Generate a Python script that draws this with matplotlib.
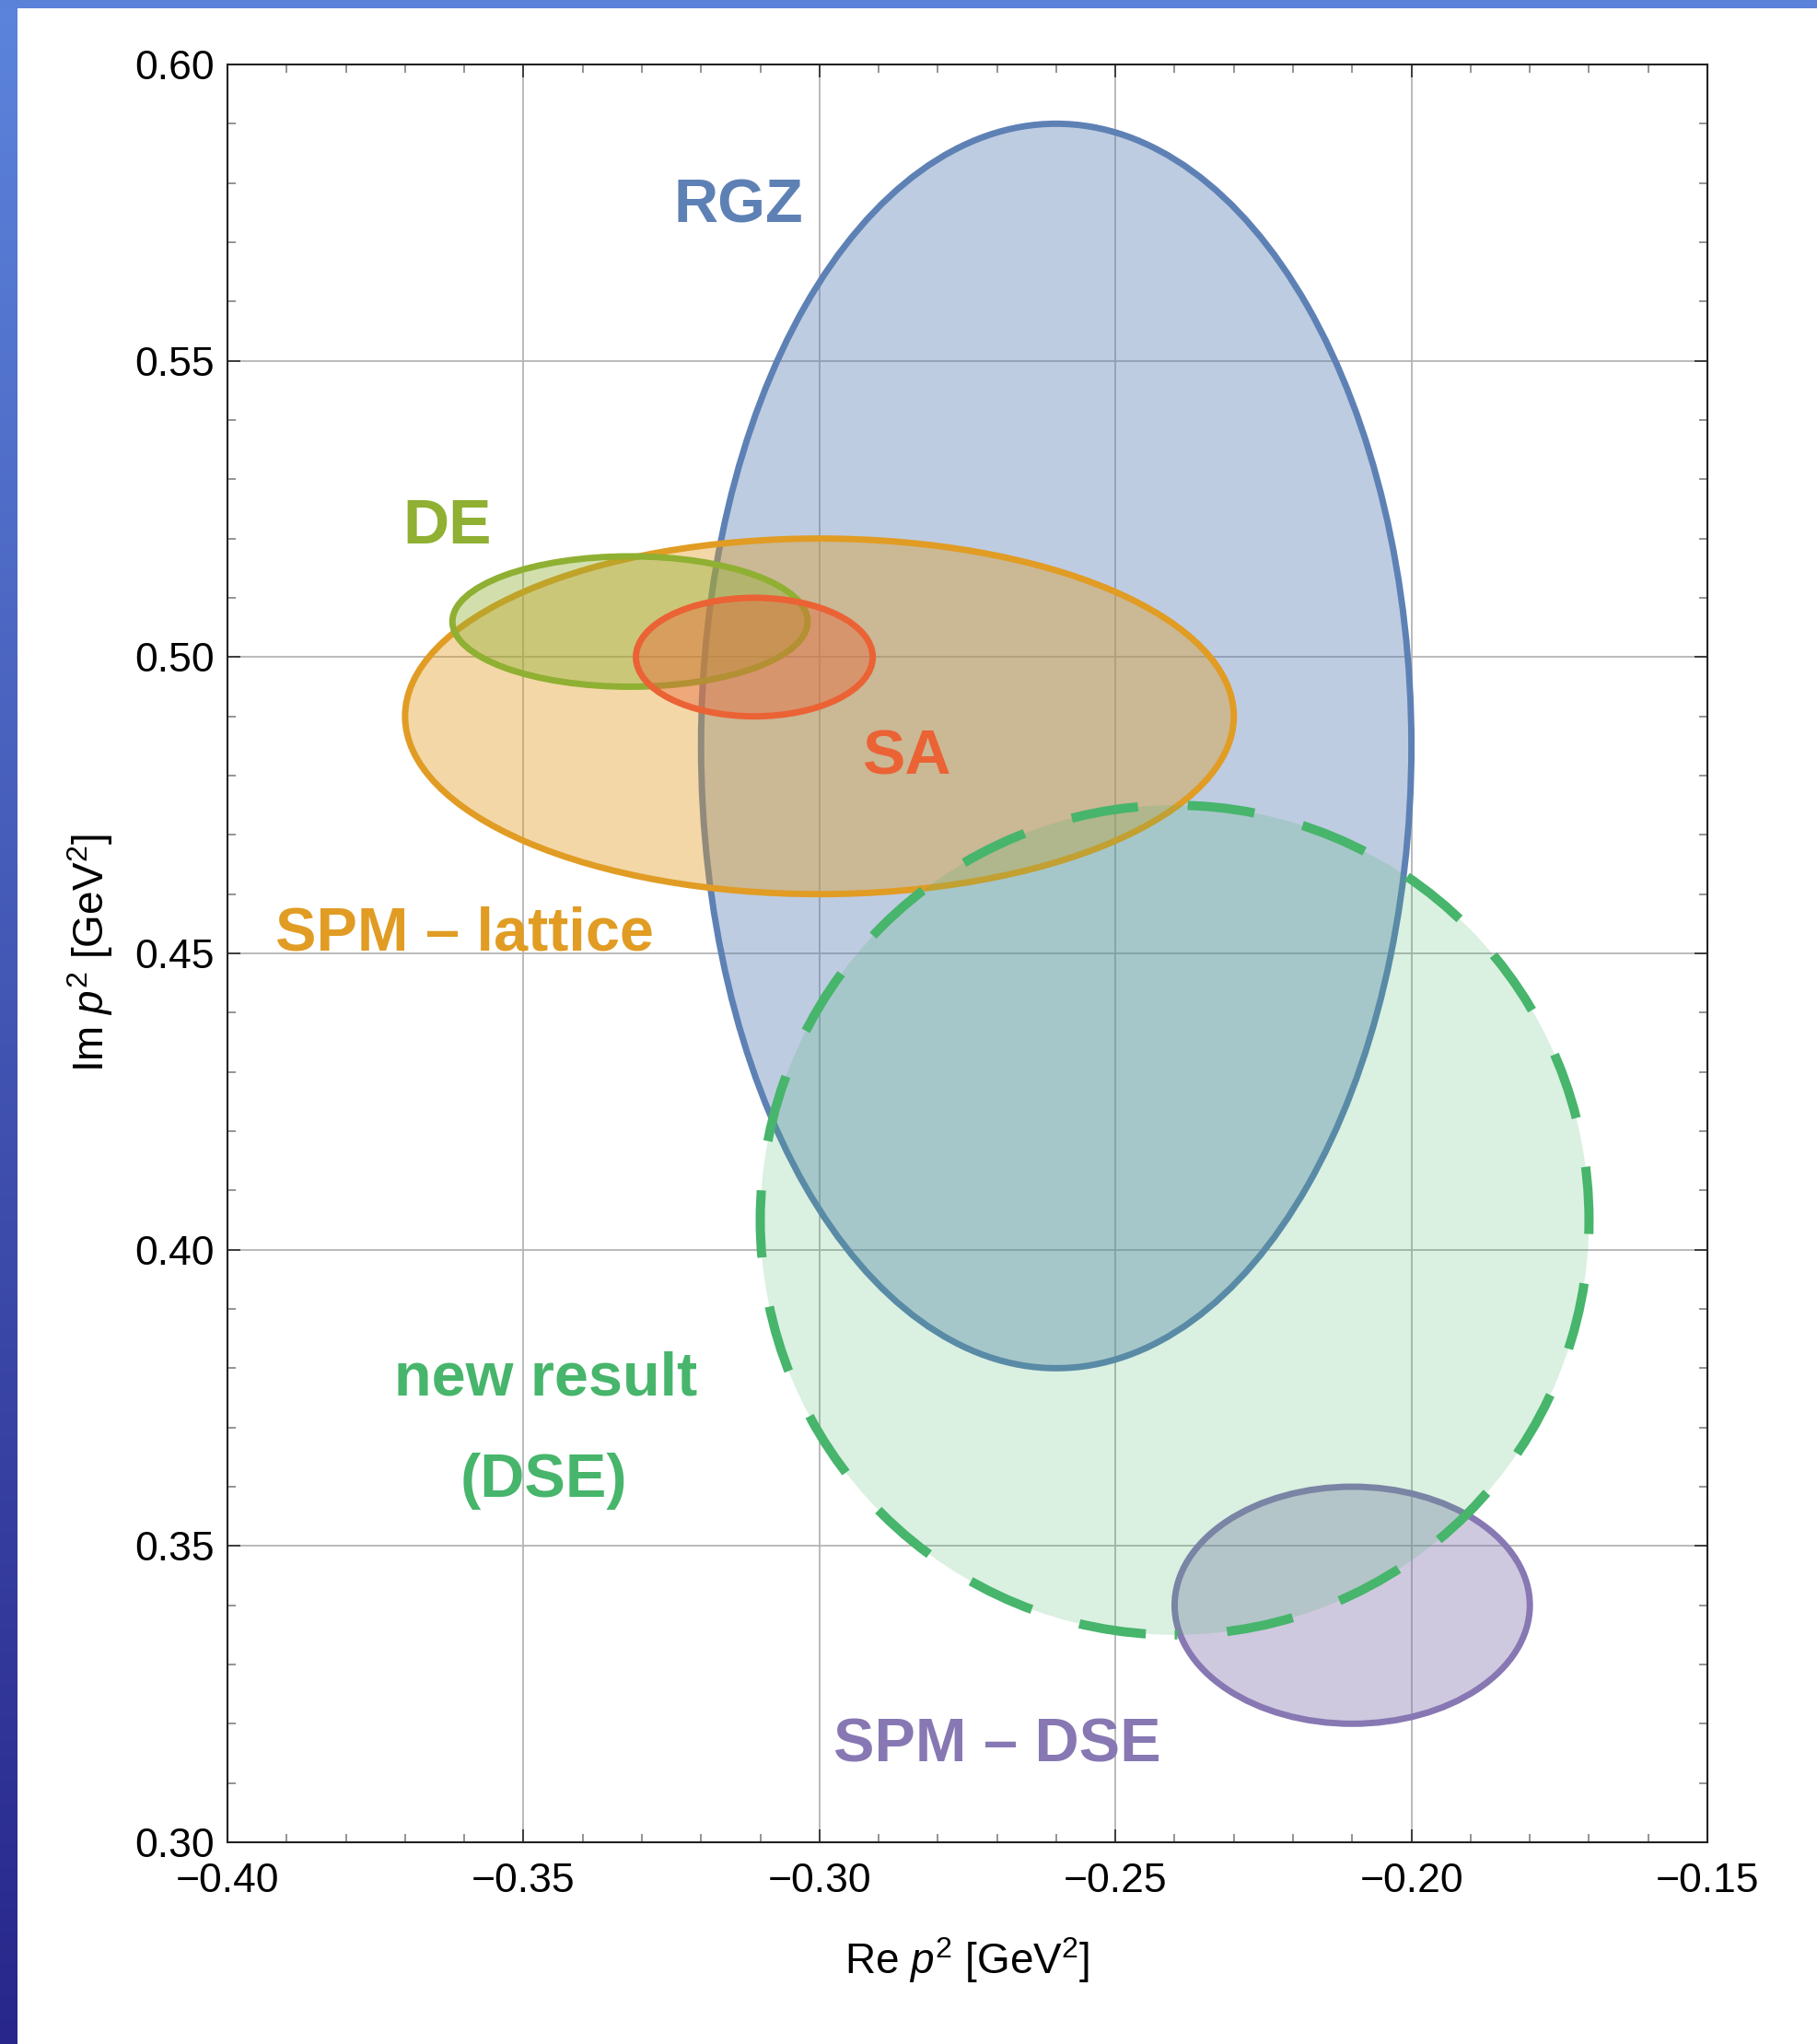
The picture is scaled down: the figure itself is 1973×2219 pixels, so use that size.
import numpy as np
import matplotlib.pyplot as plt
from matplotlib.patches import Ellipse
from matplotlib.colors import to_rgba, LinearSegmentedColormap

plt.rcParams['font.family'] = ['Liberation Sans', 'DejaVu Sans']
plt.rcParams['mathtext.fontset'] = 'custom'
plt.rcParams['mathtext.rm'] = 'Liberation Sans'
plt.rcParams['mathtext.it'] = 'Liberation Sans:italic'

# regions in the complex p^2 plane (centre and half-widths), drawn in this order
names = ["RGZ", "SPM – lattice", "DE", "SA", "SPM – DSE", "new result"]
centre_re = [-0.260, -0.300, -0.332, -0.311, -0.210, -0.240]
centre_im = [0.485, 0.490, 0.506, 0.500, 0.340, 0.405]
half_re = [0.060, 0.070, 0.030, 0.020, 0.030, 0.070]
half_im = [0.105, 0.030, 0.011, 0.010, 0.020, 0.070]
colors = ["#5e81b5", "#e19c24", "#8fb032", "#eb6235", "#8778b3", "#47b56b"]
fill_alpha = [0.4, 0.4, 0.4, 0.4, 0.4, 0.2]

# text labels next to the regions
label_text = ["RGZ", "DE", "SA", "SPM – lattice", "new result", "(DSE)", "SPM – DSE"]
label_re = [-0.3137, -0.3628, -0.2852, -0.3599, -0.3463, -0.3465, -0.2700]
label_im = [0.5734, 0.5192, 0.4802, 0.4506, 0.3754, 0.3583, 0.3136]
label_color = ["#5e81b5", "#8fb032", "#eb6235", "#e19c24", "#47b56b", "#47b56b", "#8778b3"]
label_size = [48, 50, 50, 48, 48, 48, 48]

x_ticks = [-0.40, -0.35, -0.30, -0.25, -0.20, -0.15]
x_tick_labels = ["\u22120.40", "\u22120.35", "\u22120.30", "\u22120.25", "\u22120.20", "\u22120.15"]
y_ticks = [0.30, 0.35, 0.40, 0.45, 0.50, 0.55, 0.60]
y_tick_labels = ["0.30", "0.35", "0.40", "0.45", "0.50", "0.55", "0.60"]

W, H = 1973, 2219
fig = plt.figure(figsize=(W / 100, H / 100), dpi=100)
fig.patch.set_facecolor('white')

# slide frame: gradient bar on the left, flat bar on top
side = fig.add_axes([0, 0, 19 / W, 1])
side.imshow(np.linspace(0, 1, 256)[:, None], aspect='auto',
            cmap=LinearSegmentedColormap.from_list('bar', ['#5c84dc', '#28268a']))
side.axis('off')
top = fig.add_axes([0, 1 - 9 / H, 1, 9 / H])
top.set_facecolor('#5b82d9')
top.set_xticks([])
top.set_yticks([])
for s in top.spines.values():
    s.set_visible(False)

ax = fig.add_axes([247 / W, 219 / H, 1607 / W, 1930 / H])

for i in range(len(names)):
    dashed = names[i] == "new result"
    e = Ellipse((centre_re[i], centre_im[i]), 2 * half_re[i], 2 * half_im[i],
                facecolor=to_rgba(colors[i], fill_alpha[i]), edgecolor=colors[i],
                lw=7.2 if dashed else 5.0,
                linestyle=(7.0, (7.3, 5.4)) if dashed else '-',
                zorder=2 + i)
    ax.add_patch(e)

for t, xr, yi, c, fs in zip(label_text, label_re, label_im, label_color, label_size):
    ax.text(xr, yi, t, color=c, fontsize=fs, fontweight='bold',
            ha='center', va='baseline', zorder=10)

ax.set_xlim(-0.40, -0.15)
ax.set_ylim(0.30, 0.60)
ax.set_xticks(x_ticks)
ax.set_xticklabels(x_tick_labels)
ax.set_yticks(y_ticks)
ax.set_yticklabels(y_tick_labels)
ax.set_xticks(np.arange(-0.40, -0.1499, 0.01), minor=True)
ax.set_yticks(np.arange(0.30, 0.6001, 0.01), minor=True)

ax.grid(True, which='major', color='#b4b4b4', lw=1.3)
ax.set_axisbelow(True)
ax.tick_params(which='both', direction='in', top=True, right=True, labelsize=32)
ax.tick_params(which='major', length=10, width=1.3, color='#333333')
ax.tick_params(which='minor', length=6.5, width=1.1, color='#777777')
ax.tick_params(axis='x', which='major', pad=16)
ax.tick_params(axis='y', which='major', pad=10)
for s in ax.spines.values():
    s.set_linewidth(1.5)
    s.set_color('#222222')

ax.set_xlabel(r'Re $p^2$ [GeV$^2$]', fontsize=33)
ax.set_ylabel(r'Im $p^2$ [GeV$^2$]', fontsize=33)
ax.xaxis.label.set_va('center')
ax.yaxis.label.set_va('center')
ax.xaxis.set_label_coords(0.5, (2000 - 2128) / 1930)
ax.yaxis.set_label_coords((98 - 247) / 1607, 0.5)

fig.savefig('out.png', dpi=100)
